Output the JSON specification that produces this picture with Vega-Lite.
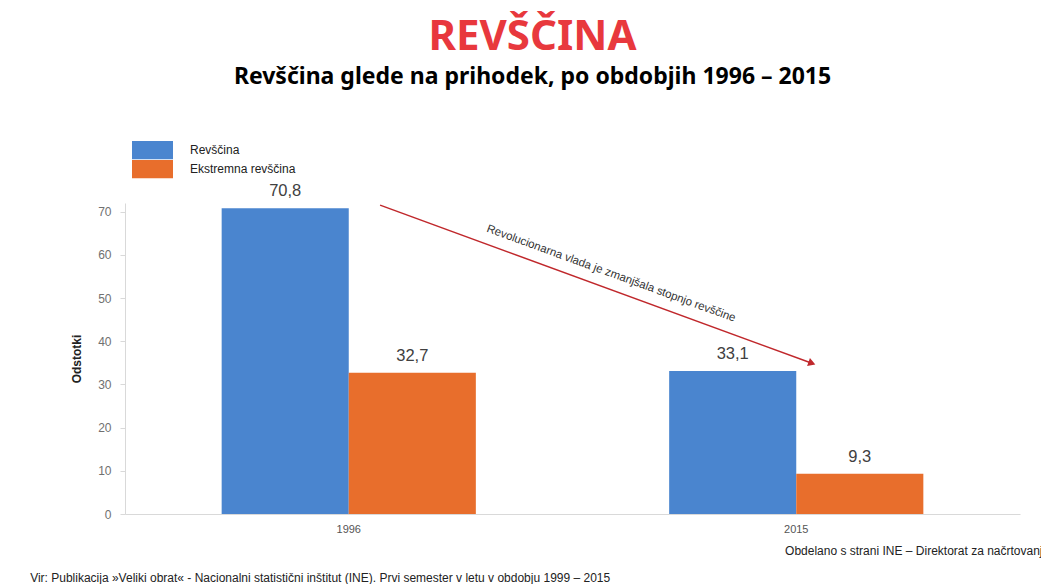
{
  "$schema": "https://vega.github.io/schema/vega-lite/v6.json",
  "width": 895,
  "height": 311,
  "autosize": {"type": "none"},
  "padding": {"left": 125, "top": 203, "right": 21, "bottom": 70},
  "background": "white",
  "config": {
    "font": "Liberation Sans",
    "view": {"stroke": null},
    "locale": {"number": {"decimal": ",", "thousands": ".", "grouping": [3], "currency": ["", " €"]}}
  },
  "title": {
    "text": "REVŠČINA",
    "subtitle": "Revščina glede na prihodek, po obdobjih 1996 – 2015",
    "anchor": "middle",
    "dx": -40,
    "offset": 51,
    "font": "Noto Sans",
    "fontSize": 42,
    "fontWeight": "bold",
    "color": "#e8383d",
    "subtitleFont": "Noto Sans",
    "subtitleFontSize": 23,
    "subtitleFontWeight": "bold",
    "subtitleColor": "#000000",
    "subtitlePadding": 7
  },
  "datasets": {
    "bars": [
      {"year": "1996", "series": "Revščina", "value": 70.8},
      {"year": "1996", "series": "Ekstremna revščina", "value": 32.7},
      {"year": "2015", "series": "Revščina", "value": 33.1},
      {"year": "2015", "series": "Ekstremna revščina", "value": 9.3}
    ]
  },
  "layer": [
    {
      "data": {"name": "bars"},
      "encoding": {
        "x": {
          "field": "year", "type": "nominal",
          "scale": {"paddingInner": 0.432, "paddingOuter": 0.216},
          "axis": {"title": null, "labelAngle": 0, "ticks": false, "domainColor": "#d9d9d9", "labelColor": "#555555", "labelFontSize": 11, "labelPadding": 9}
        },
        "xOffset": {"field": "series", "type": "nominal", "scale": {"domain": ["Revščina", "Ekstremna revščina"], "paddingInner": 0, "paddingOuter": 0}},
        "y": {
          "field": "value", "type": "quantitative",
          "scale": {"domain": [0, 72], "nice": false, "zero": true},
          "axis": {"values": [0, 10, 20, 30, 40, 50, 60, 70], "grid": false, "title": "Odstotki", "titleFontSize": 12, "titleColor": "#222222", "titleFontWeight": "bold", "titlePadding": 14, "domainColor": "#d9d9d9", "tickColor": "#d9d9d9", "tickSize": 5, "labelColor": "#707070", "labelFontSize": 12, "labelPadding": 9}
        }
      },
      "layer": [
        {
          "mark": {"type": "bar"},
          "encoding": {
            "color": {
              "field": "series", "type": "nominal",
              "scale": {"domain": ["Revščina", "Ekstremna revščina"], "range": ["#4a85cf", "#e86e2c"]},
              "legend": {
                "title": null,
                "orient": "none",
                "legendX": 7,
                "legendY": -62,
                "symbolType": "M-1,-0.45H1V0.45H-1Z",
                "symbolSize": 1681,
                "clipHeight": 18.5,
                "rowPadding": 0,
                "labelFontSize": 12,
                "labelColor": "#222222",
                "labelOffset": 17,
                "symbolStrokeWidth": 0,
                "encode": {
                  "symbols": {"update": {"fill": {"signal": "datum.value === 'Revščina' ? '#4a85cf' : '#ee1d23'"}, "stroke": {"value": "transparent"}}}
                }
              }
            }
          }
        },
        {
          "mark": {"type": "text", "baseline": "bottom", "dy": -9, "fontSize": 16.5, "color": "#404040"},
          "encoding": {
            "text": {"field": "value", "type": "quantitative", "format": ".1f"}
          }
        }
      ]
    },
    {
      "data": {"values": [{}]},
      "layer": [
        {
          "mark": {"type": "rule", "color": "#c0282c", "strokeWidth": 1.5},
          "encoding": {
            "x": {"datum": 0.07, "type": "quantitative", "scale": {"domain": [-0.5, 1.5], "nice": false, "zero": false}, "axis": null},
            "x2": {"datum": 1.035},
            "y": {"datum": 71.5, "type": "quantitative", "scale": {"domain": [0, 72], "nice": false}},
            "y2": {"datum": 34.9}
          }
        },
        {
          "mark": {"type": "point", "shape": "triangle-right", "filled": true, "color": "#c0282c", "size": 70, "angle": 20, "opacity": 1},
          "encoding": {
            "x": {"datum": 1.035, "type": "quantitative", "scale": {"domain": [-0.5, 1.5], "nice": false, "zero": false}, "axis": null},
            "y": {"datum": 34.9, "type": "quantitative", "scale": {"domain": [0, 72], "nice": false}}
          }
        },
        {
          "mark": {"type": "text", "angle": 20, "fontSize": 11.5, "color": "#333333", "align": "center", "baseline": "middle"},
          "encoding": {
            "x": {"datum": 0.586, "type": "quantitative", "scale": {"domain": [-0.5, 1.5], "nice": false, "zero": false}, "axis": null},
            "y": {"datum": 55.6, "type": "quantitative", "scale": {"domain": [0, 72], "nice": false}},
            "text": {"value": "Revolucionarna vlada je zmanjšala stopnjo revščine"}
          }
        },
        {
          "mark": {"type": "text", "fontSize": 12, "color": "#222222", "align": "left", "baseline": "middle"},
          "encoding": {
            "x": {"datum": 0.975, "type": "quantitative", "scale": {"domain": [-0.5, 1.5], "nice": false, "zero": false}, "axis": null},
            "y": {"datum": -8.6, "type": "quantitative", "scale": {"domain": [0, 72], "nice": false}},
            "text": {"value": "Obdelano s strani INE – Direktorat za načrtovanje"}
          }
        },
        {
          "mark": {"type": "text", "fontSize": 12, "color": "#222222", "align": "left", "baseline": "middle"},
          "encoding": {
            "x": {"datum": -0.712, "type": "quantitative", "scale": {"domain": [-0.5, 1.5], "nice": false, "zero": false}, "axis": null},
            "y": {"datum": -14.8, "type": "quantitative", "scale": {"domain": [0, 72], "nice": false}},
            "text": {"value": "Vir: Publikacija »Veliki obrat« - Nacionalni statistični inštitut (INE). Prvi semester v letu v obdobju 1999 – 2015"}
          }
        }
      ]
    }
  ],
  "resolve": {"scale": {"x": "independent"}}
}
